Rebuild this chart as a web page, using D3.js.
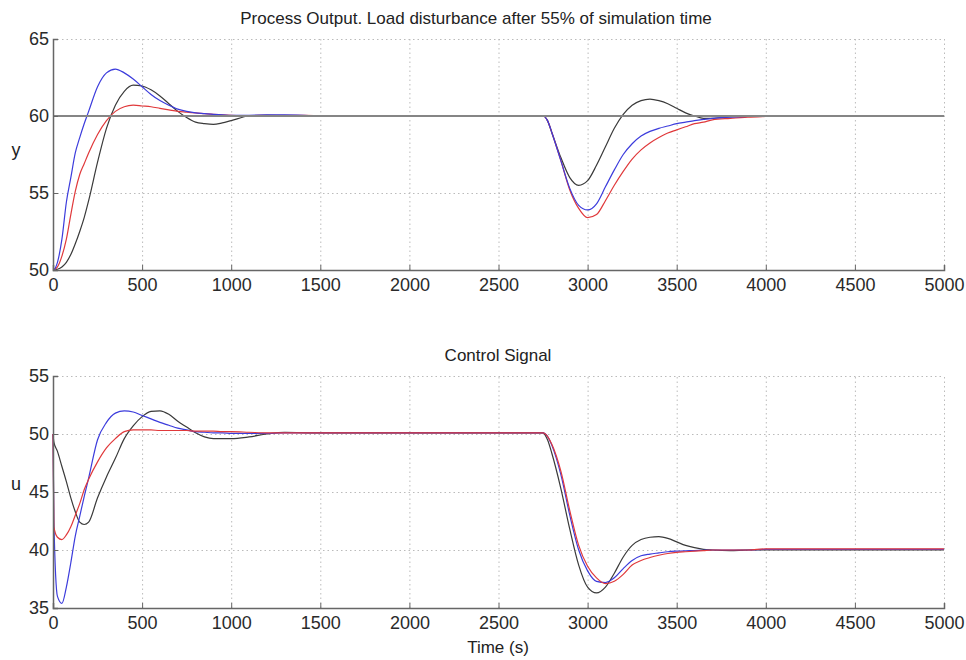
<!DOCTYPE html>
<html>
<head>
<meta charset="utf-8">
<script src="https://cdn.jsdelivr.net/npm/d3@7"></script>
<style>
  body { margin: 0; background: #fff; }
  svg { font-family: "Liberation Sans", Arial, sans-serif; }
</style>
</head>
<body>
<div id="chart"></div>
<script>
let width = 966, height = 660;

// shared time grid (s)
let time = [0, 5, 25, 50, 75, 100, 125, 150, 175, 200, 250, 300, 350, 400, 450, 500, 550, 600, 650, 700,
  750, 800, 850, 900, 950, 1000, 1100, 1200, 1300, 1500, 2000, 2750, 2775, 2800, 2850, 2900, 2950, 3000,
  3050, 3100, 3150, 3200, 3250, 3300, 3350, 3400, 3450, 3500, 3550, 3600, 3650, 3700, 3800, 3900, 4000,
  4100, 4300, 5000];

// process output y
let yBlue = [50, 50.02, 50.5, 52.0, 54.4, 56.0, 57.6, 58.6, 59.5, 60.3, 61.9, 62.8, 63.05, 62.8, 62.4, 61.9,
  61.4, 61.0, 60.7, 60.45, 60.3, 60.2, 60.15, 60.1, 60.08, 60.05, 60.05, 60.08, 60.08, 60.02, 60, 60, 59.7,
  58.9, 57.1, 55.3, 54.2, 53.9, 54.3, 55.4, 56.5, 57.5, 58.2, 58.7, 59.0, 59.2, 59.35, 59.5, 59.6, 59.7,
  59.78, 59.85, 59.92, 59.97, 60, 60, 60, 60];
let yRed = [50, 50.02, 50.2, 50.9, 52.0, 53.6, 55.1, 56.2, 56.9, 57.6, 58.8, 59.7, 60.3, 60.6, 60.7, 60.65,
  60.6, 60.5, 60.4, 60.3, 60.25, 60.2, 60.15, 60.1, 60.08, 60.05, 60.02, 60.05, 60.05, 60.02, 60, 60, 59.7,
  58.9, 57.1, 55.2, 54.0, 53.4, 53.6, 54.5, 55.5, 56.4, 57.2, 57.8, 58.25, 58.6, 58.9, 59.1, 59.3, 59.5,
  59.6, 59.75, 59.85, 59.93, 59.97, 60, 60, 60];
let yBlack = [50, 50, 50.05, 50.2, 50.5, 51.0, 51.7, 52.5, 53.4, 54.5, 57.0, 59.2, 60.7, 61.6, 62.0, 61.95,
  61.7, 61.3, 60.8, 60.3, 59.9, 59.6, 59.5, 59.45, 59.55, 59.7, 60.0, 60.05, 60.02, 60, 60, 60, 59.7,
  58.9, 57.3, 56.0, 55.5, 55.8, 56.8, 58.0, 59.2, 60.1, 60.7, 61.0, 61.1, 61.0, 60.8, 60.5, 60.2, 60.0,
  59.85, 59.85, 59.95, 60, 60, 60, 60, 60];

// control signal u
let uBlue = [50, 42.5, 36.0, 35.4, 36.8, 38.9, 41.2, 42.9, 44.6, 46.2, 49.5, 51.0, 51.8, 52.0, 51.9, 51.6,
  51.3, 51.0, 50.75, 50.5, 50.35, 50.2, 50.15, 50.1, 50.1, 50.05, 50.05, 50.05, 50.1, 50.1, 50.1, 50.1, 49.8,
  49.0, 46.5, 43.0, 40.0, 38.2, 37.3, 37.2, 37.6, 38.4, 39.1, 39.5, 39.65, 39.75, 39.85, 39.9, 39.93, 39.95,
  39.98, 40, 40, 40, 40.05, 40.05, 40.05, 40.05];
let uRed = [50, 42.0, 41.1, 40.9, 41.3, 42.0, 43.0, 44.0, 45.2, 46.1, 47.6, 48.8, 49.6, 50.2, 50.35, 50.35,
  50.35, 50.3, 50.3, 50.3, 50.3, 50.25, 50.25, 50.25, 50.2, 50.2, 50.15, 50.1, 50.1, 50.1, 50.1, 50.1, 49.8,
  49.1, 46.8, 43.4, 40.4, 38.6, 37.6, 37.1, 37.3, 37.9, 38.7, 39.1, 39.35, 39.55, 39.7, 39.8, 39.85, 39.9,
  39.95, 40.0, 40.0, 40.0, 40.1, 40.1, 40.1, 40.1];
let uBlack = [50, 49.3, 48.5, 47.2, 45.9, 44.5, 43.3, 42.4, 42.2, 42.4, 44.5, 46.3, 47.9, 49.6, 50.7, 51.5,
  51.95, 52.0, 51.7, 51.1, 50.6, 50.1, 49.75, 49.6, 49.6, 49.6, 49.75, 50.0, 50.15, 50.1, 50.1, 50.1, 49.5,
  48.3, 45.3, 41.8, 38.7, 36.8, 36.3, 36.8, 38.0, 39.4, 40.4, 40.9, 41.1, 41.15, 41.0, 40.7, 40.4, 40.2,
  40.05, 40.0, 39.95, 40, 40, 40, 40, 40];

let setpoint = 60;
let xTicks = [0, 500, 1000, 1500, 2000, 2500, 3000, 3500, 4000, 4500, 5000];
let yTicksTop = [50, 55, 60, 65];
let yTicksBottom = [35, 40, 45, 50, 55];

let colors = {blue: "#3c3cdc", red: "#e0393b", black: "#3a3a3a"};

let svg = d3.select("#chart").append("svg")
  .attr("width", width).attr("height", height);

svg.append("rect").attr("width", width).attr("height", height).attr("fill", "#fff");

let x = d3.scaleLinear().domain([0, 5000]).range([53, 944]);

function panel(top, bottom, domain, ticks, series, title, titleX, titleY, ylab, ylabY) {
  let y = d3.scaleLinear().domain(domain).range([bottom, top]);
  let g = svg.append("g");

  // dotted grid
  g.append("g")
    .attr("transform", `translate(0,${bottom})`)
    .call(d3.axisBottom(x).tickValues(xTicks).tickSize(-(bottom - top)).tickFormat(""))
    .call(g => g.select(".domain").remove())
    .call(g => g.selectAll(".tick line").attr("stroke", "#bbb").attr("stroke-dasharray", "1.5,3"));
  g.append("g")
    .attr("transform", `translate(${x.range()[0]},0)`)
    .call(d3.axisLeft(y).tickValues(ticks).tickSize(-(x.range()[1] - x.range()[0])).tickFormat(""))
    .call(g => g.select(".domain").remove())
    .call(g => g.selectAll(".tick line").attr("stroke", "#bbb").attr("stroke-dasharray", "1.5,3"));

  let line = d3.line().x((d, i) => x(time[i])).y(d => y(d)).curve(d3.curveMonotoneX);
  series.lines.forEach(s => {
    g.append("path")
      .attr("d", line(s.values))
      .attr("fill", "none")
      .attr("stroke", s.color)
      .attr("stroke-width", 1.2);
  });

  if (series.setpoint != null) {
    g.append("line")
      .attr("x1", x(0)).attr("x2", x(5000))
      .attr("y1", y(series.setpoint)).attr("y2", y(series.setpoint))
      .attr("stroke", "#858585").attr("stroke-width", 2);
  }

  // axes
  g.append("g")
    .attr("transform", `translate(0,${bottom})`)
    .call(d3.axisBottom(x).tickValues(xTicks).tickSize(-5).tickPadding(8).tickFormat(d3.format("d")))
    .call(g => g.select(".domain").attr("stroke", "#666").attr("stroke-width", 1.5))
    .call(g => g.selectAll(".tick line").attr("stroke", "#666"))
    .call(g => g.selectAll(".tick text").attr("font-size", 18).attr("fill", "#2a2a2a"));
  g.append("g")
    .attr("transform", `translate(${x.range()[0]},0)`)
    .call(d3.axisLeft(y).tickValues(ticks).tickSize(-5).tickPadding(4))
    .call(g => g.select(".domain").attr("stroke", "#666").attr("stroke-width", 1.5))
    .call(g => g.selectAll(".tick line").attr("stroke", "#666"))
    .call(g => g.selectAll(".tick text").attr("font-size", 18).attr("fill", "#2a2a2a"));

  g.append("text")
    .attr("x", titleX).attr("y", titleY)
    .attr("text-anchor", "middle")
    .attr("font-size", 17).attr("fill", "#222")
    .text(title);

  g.append("text")
    .attr("x", 16).attr("y", ylabY)
    .attr("text-anchor", "middle")
    .attr("font-size", 18).attr("fill", "#222")
    .text(ylab);
}

panel(39, 270, [50, 65], yTicksTop, {
  setpoint: setpoint,
  lines: [
    {values: yBlack, color: colors.black},
    {values: yRed, color: colors.red},
    {values: yBlue, color: colors.blue}
  ]
}, "Process Output. Load disturbance after 55% of simulation time", 476, 24, "y", 156);

panel(376, 608, [35, 55], yTicksBottom, {
  setpoint: null,
  lines: [
    {values: uBlack, color: colors.black},
    {values: uBlue, color: colors.blue},
    {values: uRed, color: colors.red}
  ]
}, "Control Signal", 498, 361, "u", 490);

svg.append("text")
  .attr("x", 498).attr("y", 653)
  .attr("text-anchor", "middle")
  .attr("font-size", 17).attr("fill", "#222")
  .text("Time (s)");
</script>
</body>
</html>
